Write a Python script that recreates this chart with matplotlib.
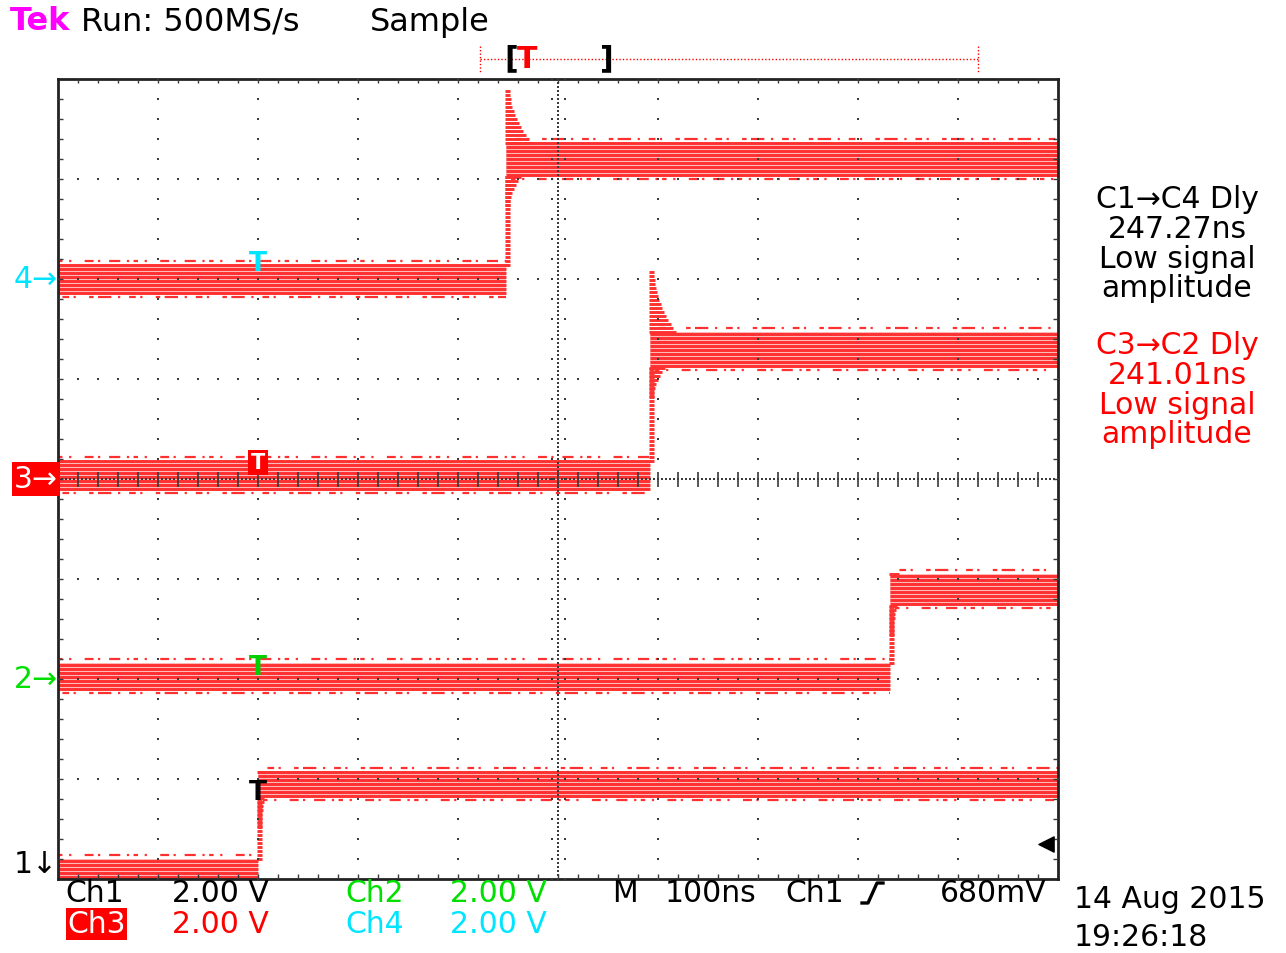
import numpy as np
import matplotlib
matplotlib.use("Agg")
import matplotlib.pyplot as plt
from matplotlib.lines import Line2D

# ---------------- data (screen divisions: x 0..10, y 0..8) ----------------
channels = ["Ch1", "Ch2", "Ch3", "Ch4"]
step_time = [2.00, 8.32, 5.92, 4.48]        # div
low_level = [0.11, 2.03, 4.04, 6.00]        # div
high_level = [0.95, 2.90, 5.30, 7.20]       # div
low_half = [0.09, 0.13, 0.14, 0.14]         # half band width (noise)
high_half = [0.12, 0.15, 0.17, 0.16]
overshoot_peak = [1.08, 3.06, 6.10, 7.90]
ring_length = [0.04, 0.05, 0.22, 0.22]

ref_labels = ["1↓", "2→", "3→", "4→"]
ref_colors = ["black", "#00e000", "white", "#00e5ff"]
ref_ypix = [865, 680, 480, 280]
trig_T_y = [0.87, 2.12, 4.17, 6.16]
trig_T_colors = ["black", "#00d000", "white", "#00e5ff"]

scale_row1 = [("Ch1", "black"), ("2.00 V", "black"), ("Ch2", "#00e000"), ("2.00 V", "#00e000")]
scale_row2 = [("Ch3", "white"), ("2.00 V", "red"), ("Ch4", "#00e5ff"), ("2.00 V", "#00e5ff")]
timebase = ["M", "100ns", "Ch1", "680mV"]
meas1 = ["C1→C4 Dly", "247.27ns", "Low signal", "amplitude"]
meas2 = ["C3→C2 Dly", "241.01ns", "Low signal", "amplitude"]
trig_level = 0.35

W, H = 1286, 954
RED = "#ff3030"
PINK = "#ffb8b8"
DOT = "#3a3a3a"

fig = plt.figure(figsize=(W / 100, H / 100), dpi=100)
ax = fig.add_axes([58 / W, 74 / H, 1000 / W, 800 / H])
ax.set_xlim(0, 10)
ax.set_ylim(0, 8)
ax.set_xticks([])
ax.set_yticks([])
for s in ax.spines.values():
    s.set_linewidth(2.0)
    s.set_color("#222222")


def px(x, y):
    return x / W, 1 - y / H


def stripes(a, b):
    return np.arange(a, b + 1e-9, 0.04)


noise_ls = (0, (2, 3, 1, 6, 4, 2, 1, 4, 5, 3, 1, 2))
noise_ls2 = (3, (1, 4, 3, 2, 1, 6, 2, 2, 6, 3))
SLW = 2.1

# ---------------- waveforms ----------------
for i in range(4):
    t = step_time[i]
    lo, hi = low_level[i], high_level[i]
    lh, hh = low_half[i], high_half[i]
    pk, rl = overshoot_peak[i], ring_length[i]
    lo_b = max(lo - lh, 0.01)
    # low band
    ax.fill_between([0, t], lo_b, lo + lh, color=PINK, lw=0, zorder=1)
    ax.hlines(stripes(lo_b, lo + lh), 0, t, color=RED, lw=SLW, zorder=2)
    ax.hlines([lo + lh + 0.04], 0, t, color=RED, lw=1.6, linestyles=[noise_ls], zorder=2)
    if lo - lh - 0.04 > 0:
        ax.hlines([lo - lh - 0.04], 0, t, color=RED, lw=1.6, linestyles=[noise_ls2], zorder=2)
    # high band
    ax.fill_between([t, 10], hi - hh, hi + hh, color=PINK, lw=0, zorder=1)
    ax.hlines(stripes(hi - hh, hi + hh), t, 10, color=RED, lw=SLW, zorder=2)
    ax.hlines([hi + hh + 0.04], t + 0.05, 10, color=RED, lw=1.6, linestyles=[noise_ls2], zorder=2)
    ax.hlines([hi - hh - 0.04], t + 0.05, 10, color=RED, lw=1.6, linestyles=[noise_ls], zorder=2)
    # rising edge
    ys = stripes(lo + lh, hi - hh)
    ax.hlines(ys, t - 0.01, t + 0.04, color=RED, lw=SLW, zorder=2)
    # ringing below the settled band
    ys = stripes(hi - hh - 0.3, hi - hh)
    frac = 1 - (hi - hh - ys) / 0.3
    ax.hlines(ys, t - 0.01, t + 0.04 + rl * 0.6 * frac ** 2, color=RED, lw=SLW, zorder=2)
    # overshoot
    ys = stripes(hi + hh, pk)
    if len(ys):
        frac = (pk - ys) / max(pk - (hi + hh), 1e-6)
        ax.hlines(ys, t - 0.01, t + 0.04 + rl * frac ** 2, color=RED, lw=SLW, zorder=2)

# ---------------- graticule ----------------
gx, gy = [], []
for k in range(1, 10):
    for y in np.arange(0, 8.001, 0.2):
        gx.append(k); gy.append(y)
for k in range(1, 8):
    for x in np.arange(0, 10.001, 0.2):
        gx.append(x); gy.append(k)
for y in np.arange(0, 8.001, 0.04):
    gx.append(5); gy.append(y)
for x in np.arange(0, 10.001, 0.04):
    gx.append(x); gy.append(4)
for y in np.arange(0, 8.001, 0.2):
    gx += [4.935, 5.065]; gy += [y, y]
ax.scatter(gx, gy, s=2.4, marker="s", color=DOT, lw=0, zorder=4)
xs = np.arange(0.2, 10, 0.2)
ax.vlines(xs, 3.925, 4.075, color=DOT, lw=1.2, zorder=4)
ax.vlines(xs, 0, 0.05, color=DOT, lw=1.0, zorder=4)
ax.vlines(xs, 7.96, 8, color=DOT, lw=1.0, zorder=4)
ys = np.arange(0.2, 8, 0.2)
ax.hlines(ys, 0, 0.05, color=DOT, lw=1.0, zorder=4)
ax.hlines(ys, 9.95, 10, color=DOT, lw=1.0, zorder=4)

# trigger position markers on the traces
for i in range(4):
    if i == 2:
        ax.text(2.0, trig_T_y[i], "T", color="white", fontsize=15, fontweight="bold",
                ha="center", va="center", zorder=6,
                bbox=dict(boxstyle="square,pad=0.12", fc="red", ec="none"))
    else:
        ax.text(2.0, trig_T_y[i], "T", color=trig_T_colors[i], fontsize=19, fontweight="bold",
                ha="center", va="center", zorder=6)

# trigger level arrow
ax.scatter([9.88], [trig_level], marker="<", s=120, color="black", zorder=6, clip_on=False)

# ---------------- text ----------------
FS = 21.5
fig.text(*px(10, 22), "Tek", color="#ff00ff", fontsize=23, fontweight="bold", va="center", ha="left")
fig.text(*px(81, 22), "Run: 500MS/s", color="black", fontsize=23, va="center", ha="left")
fig.text(*px(370, 22), "Sample", color="black", fontsize=23, va="center", ha="left")

# record bracket
fig.add_artist(Line2D([480 / W, 978 / W], [1 - 60 / H] * 2, color="red", lw=1, ls=(0, (1, 1.5))))
for xx in (480, 978):
    fig.add_artist(Line2D([xx / W] * 2, [1 - 47 / H, 1 - 73 / H], color="red", lw=1, ls=(0, (1, 1.5))))
fig.text(*px(511, 59), "[", color="black", fontsize=FS, fontweight="bold", va="center", ha="center")
fig.text(*px(607, 59), "]", color="black", fontsize=FS, fontweight="bold", va="center", ha="center")
fig.text(*px(527, 60), "T", color="red", fontsize=FS, fontweight="bold", va="center", ha="center")

# channel reference markers
for i in range(4):
    if i == 2:
        fig.text(*px(36, ref_ypix[i]), ref_labels[i], color="white", fontsize=FS,
                 va="center", ha="center",
                 bbox=dict(boxstyle="square,pad=0.08", fc="red", ec="none"))
    else:
        fig.text(*px(36, ref_ypix[i]), ref_labels[i], color=ref_colors[i], fontsize=FS,
                 va="center", ha="center")

# measurements
for j, s in enumerate(meas1):
    fig.text(*px(1177, 200 + 29.5 * j), s, color="black", fontsize=FS, va="center", ha="center")
for j, s in enumerate(meas2):
    fig.text(*px(1177, 346 + 29.5 * j), s, color="red", fontsize=FS, va="center", ha="center")

# scale readouts
row_x = [65, 172, 345, 450]
for (s, c), xx in zip(scale_row1, row_x):
    fig.text(*px(xx, 893), s, color=c, fontsize=FS, va="center", ha="left")
for k, ((s, c), xx) in enumerate(zip(scale_row2, row_x)):
    if k == 0:
        fig.text(*px(xx + 2, 925), s, color=c, fontsize=FS, va="center", ha="left",
                 bbox=dict(boxstyle="square,pad=0.05", fc="red", ec="none"))
    else:
        fig.text(*px(xx, 925), s, color=c, fontsize=FS, va="center", ha="left")
tb_x = [612, 665, 785, 940]
for s, xx in zip(timebase, tb_x):
    fig.text(*px(xx, 893), s, color="black", fontsize=FS, va="center", ha="left")
# rising-slope symbol
sx = [862, 868, 877, 883]
sy = [904, 904, 884, 884]
fig.add_artist(Line2D([v / W for v in sx], [1 - v / H for v in sy], color="black", lw=2.4))

fig.text(*px(1074, 900), "14 Aug 2015", color="black", fontsize=FS, va="center", ha="left")
fig.text(*px(1074, 938), "19:26:18", color="black", fontsize=FS, va="center", ha="left")

fig.savefig("out.png", dpi=100, facecolor="white")
